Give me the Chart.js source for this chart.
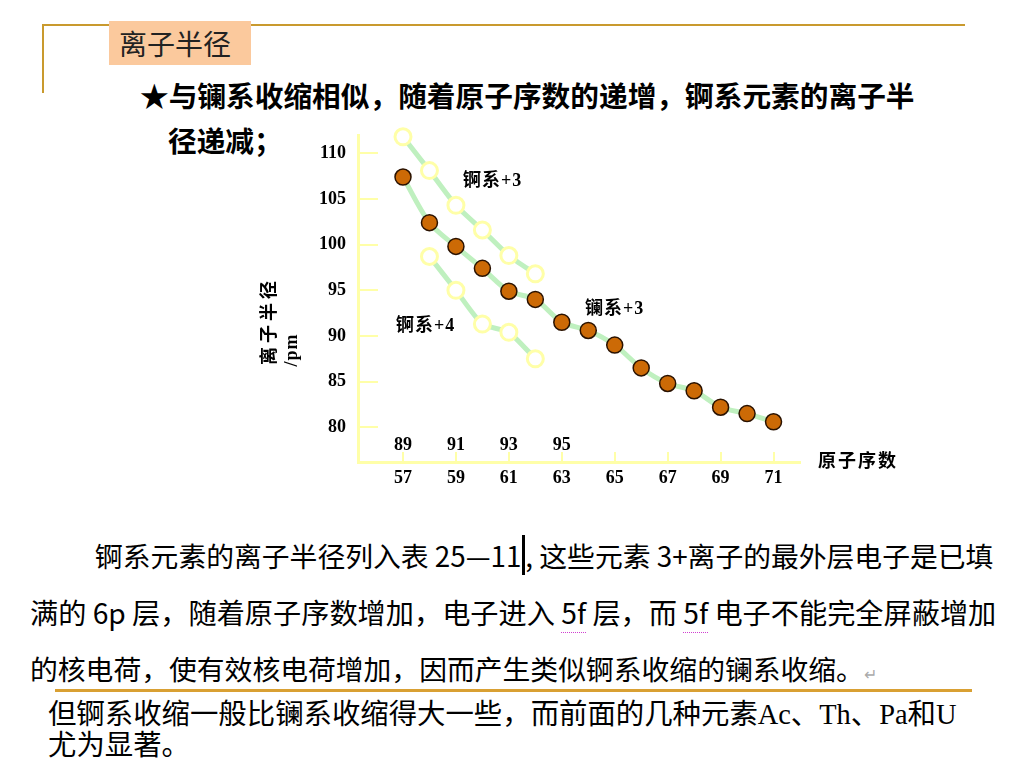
<!DOCTYPE html>
<html>
<head>
<meta charset="utf-8">
<script src="https://cdn.jsdelivr.net/npm/chart.js@4.4.0/dist/chart.umd.min.js"></script>
<style>
  html, body { margin: 0; padding: 0; background: #fff; }
  #slide { position: relative; width: 1024px; height: 768px; overflow: hidden; background: #fff; }
  .abs { position: absolute; white-space: nowrap; }
  .cjk { font-family: "Noto Sans CJK SC", sans-serif; }
  .lbl { font-family: "Liberation Serif", "Noto Sans CJK SC", serif; font-weight: bold; font-size: 18px; color: #000; line-height: 1; letter-spacing: 1px; }
  #chartBox { position: absolute; left: 250px; top: 120px; width: 670px; height: 390px; }
</style>
</head>
<body>
<div id="slide">
  <!-- slide frame -->
  <div class="abs" style="left:42px; top:24px; width:923px; height:2px; background:#c99a2e;"></div>
  <div class="abs" style="left:42px; top:24px; width:2px; height:69px; background:#c99a2e;"></div>
  <div class="abs cjk" style="left:109px; top:21px; width:142px; height:44px; background:#fbc99d; font-size:28px; line-height:44px; text-indent:10px; color:#222;">离子半径</div>

  <div class="abs cjk" style="left:140px; top:77px; font-size:28.7px; font-weight:bold; line-height:36px;">★与镧系收缩相似，随着原子序数的递增，锕系元素的离子半</div>
  <div class="abs cjk" style="left:168px; top:122px; font-size:28.7px; font-weight:bold; line-height:36px;">径递减；</div>

  <div id="chartBox"><canvas id="myChart"></canvas></div>

  <!-- chart annotations -->
  <div class="abs lbl" style="left:463px; top:171px;">锕系+3</div>
  <div class="abs lbl" style="left:585px; top:299px;">镧系+3</div>
  <div class="abs lbl" style="left:396px; top:316px;">锕系+4</div>
  <div class="abs lbl" style="left:269px; top:321px; letter-spacing:4px; transform:translate(-50%,-50%) rotate(-90deg);">离子半径</div>
  <div class="abs lbl" style="left:291px; top:350px; transform:translate(-50%,-50%) rotate(-90deg);">/pm</div>
  <div class="abs lbl" style="left:818px; top:452px; letter-spacing:2px;">原子序数</div>

  <!-- paragraph -->
  <div class="abs cjk" style="left:95px; top:538px; font-size:27.8px; line-height:34px;">锕系元素的离子半径列入表 25—11<span style="border-left:3px solid #000; margin-left:1px;"></span>, 这些元素 3+离子的最外层电子是已填</div>
  <div class="abs cjk" style="left:30px; top:595px; font-size:28.2px; line-height:34px;">满的 6p 层，随着原子序数增加，电子进入 <span style="border-bottom:1px dotted #d040d0;">5f</span> 层，而 <span style="border-bottom:1px dotted #d040d0;">5f</span> 电子不能完全屏蔽增加</div>
  <div class="abs cjk" style="left:30px; top:651px; font-size:27.8px; line-height:34px;">的核电荷，使有效核电荷增加，因而产生类似锕系收缩的镧系收缩。<span style="color:#aaa; font-size:16px;">↵</span></div>

  <div class="abs" style="left:55px; top:689px; width:917px; height:3px; background:#d9a033;"></div>
  <div class="abs" style="left:48px; top:699px; font-family:'Liberation Serif','Noto Sans CJK SC',serif; font-size:28.4px; line-height:31px;">但锕系收缩一般比镧系收缩得大一些，而前面的几种元素Ac、Th、Pa和U<br>尤为显著。</div>
</div>

<script>
// lanthanide +3 radii (pm) against atomic number
const lnZ = [57, 58, 59, 60, 61, 62, 63, 64, 65, 66, 67, 68, 69, 70, 71]
const ln3 = [107.4, 102.4, 99.8, 97.4, 94.9, 94.0, 91.5, 90.6, 89.0, 86.5, 84.8, 84.0, 82.2, 81.5, 80.6]

// actinide +3 and +4 radii
const an3Z = [89, 90, 91, 92, 93, 94]
const an3 = [111.8, 108.1, 104.3, 101.6, 98.8, 96.8]
const an4Z = [90, 91, 92, 93, 94]
const an4 = [98.7, 95.0, 91.3, 90.4, 87.5]

// tick labels
const lnTicks = [57, 59, 61, 63, 65, 67, 69, 71]
const anTicks = [89, 91, 93, 95]
const yTicks = [80, 85, 90, 95, 100, 105, 110]

const xMin = 55.3
const xMax = 72.0
const offset = 32 // actinide row sits 32 above the lanthanide row

const lineGreen = '#bff0bf'
const paleYellow = '#ffffa8'
const tickFont = {family: 'Liberation Serif', size: 18, weight: 'bold'}

function pts(xs, ys) {
    return xs.map((x, i) => ({x: x, y: ys[i]}))
}

function noPad(s) {
    s.paddingTop = 0
    s.paddingBottom = 0
    s.paddingLeft = 0
    s.paddingRight = 0
}

const ctx = document.getElementById('myChart')

const myChart = new Chart(ctx, {
    type: 'line',
    data: {
        datasets: [
            {
                label: '锕系+4',
                data: pts(an4Z, an4),
                xAxisID: 'xA',
                borderColor: lineGreen,
                borderWidth: 5,
                tension: 0.2,
                pointRadius: 8,
                pointBorderWidth: 3,
                pointBorderColor: paleYellow,
                pointBackgroundColor: '#ffffff',
                clip: false
            },
            {
                label: '锕系+3',
                data: pts(an3Z, an3),
                xAxisID: 'xA',
                borderColor: lineGreen,
                borderWidth: 5,
                tension: 0.2,
                pointRadius: 8,
                pointBorderWidth: 3,
                pointBorderColor: paleYellow,
                pointBackgroundColor: '#ffffff',
                clip: false
            },
            {
                label: '镧系+3',
                data: pts(lnZ, ln3),
                xAxisID: 'x',
                borderColor: lineGreen,
                borderWidth: 5,
                tension: 0.3,
                pointRadius: 8,
                pointBorderWidth: 1.5,
                pointBorderColor: '#2a1200',
                pointBackgroundColor: '#cc6a06',
                clip: false
            }
        ]
    },
    options: {
        responsive: true,
        maintainAspectRatio: false,
        animation: false,
        layout: {padding: {left: 0, top: 15, right: 120, bottom: 0}},
        plugins: {legend: {display: false}, tooltip: {enabled: false}},
        scales: {
            x: {
                type: 'linear',
                position: 'bottom',
                min: xMin,
                max: xMax,
                afterBuildTicks: s => { s.ticks = lnTicks.map(v => ({value: v})) },
                afterFit: s => { s.height = 48; noPad(s) },
                grid: {drawOnChartArea: false, tickLength: -10, color: paleYellow, lineWidth: 2},
                border: {color: paleYellow, width: 3},
                ticks: {color: '#000', font: tickFont, padding: 16, maxRotation: 0, autoSkip: false}
            },
            xA: {
                type: 'linear',
                position: {y: 79.25},
                min: xMin + offset,
                max: xMax + offset,
                afterBuildTicks: s => { s.ticks = anTicks.map(v => ({value: v})) },
                afterFit: s => { s.height = 0; noPad(s) },
                grid: {display: false, drawTicks: false},
                border: {display: false},
                ticks: {color: '#000', font: tickFont, padding: 0, maxRotation: 0, autoSkip: false}
            },
            y: {
                type: 'linear',
                min: 76.2,
                max: 112,
                afterBuildTicks: s => { s.ticks = yTicks.map(v => ({value: v})) },
                afterFit: s => { s.width = 108; noPad(s) },
                grid: {drawOnChartArea: false, tickLength: -20, color: paleYellow, lineWidth: 2},
                border: {color: paleYellow, width: 3},
                ticks: {color: '#000', font: tickFont, padding: 32}
            }
        }
    }
});
</script>
</body>
</html>
